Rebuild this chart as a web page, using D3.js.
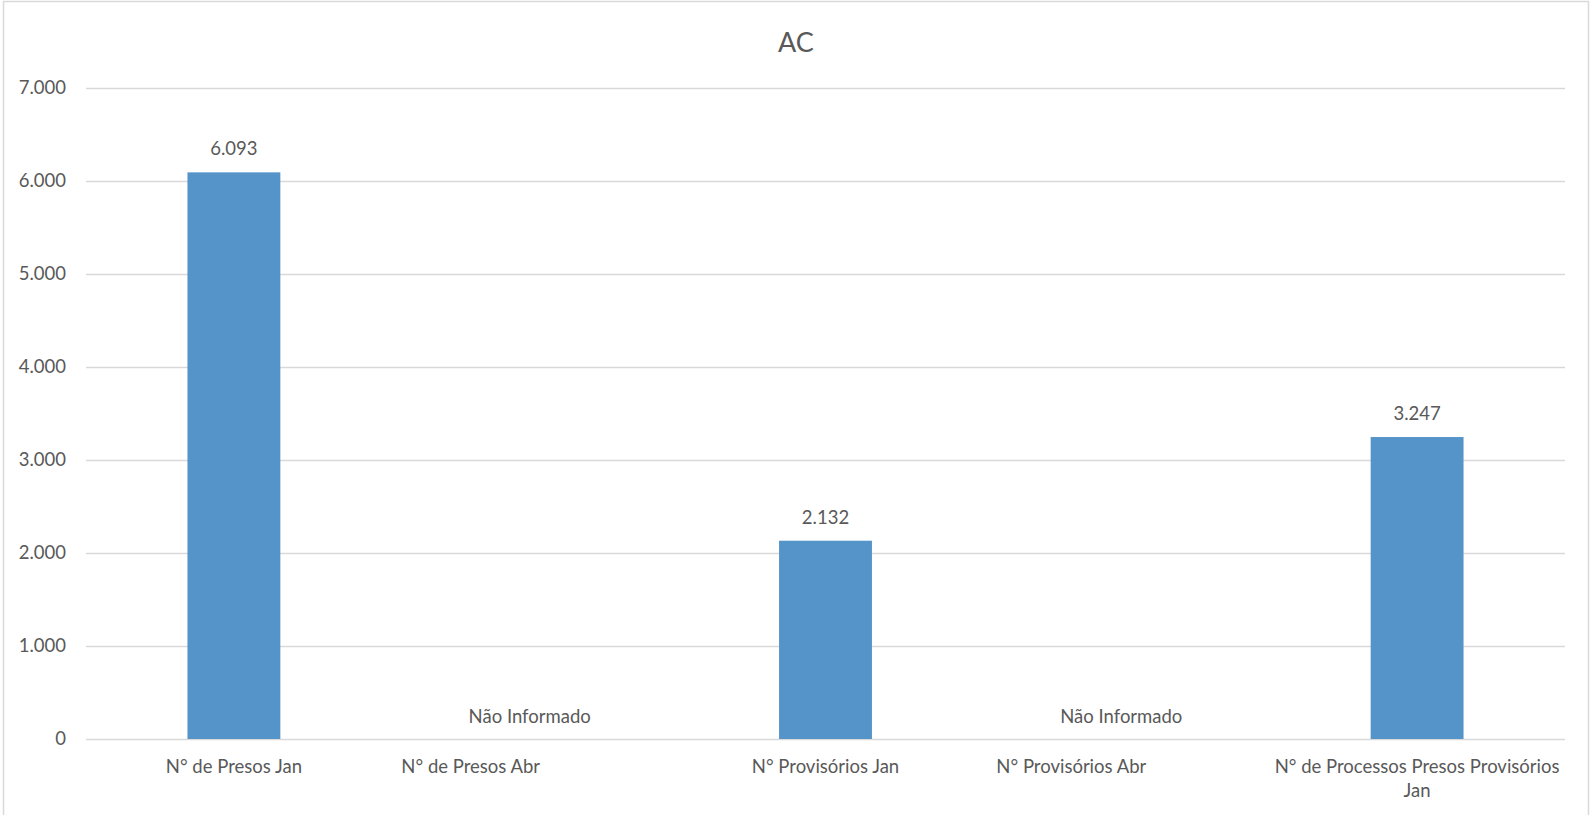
<!DOCTYPE html>
<html><head><meta charset="utf-8">
<script src="https://cdn.jsdelivr.net/npm/d3@7"></script>
<style>body{margin:0;background:#fff;overflow:hidden}svg{display:block}text{font-family:Lato,"Noto Sans",sans-serif;fill:#595959}</style>
</head><body><svg id="c" width="1592" height="815"></svg>
<script>
const title = "AC";
const categories = ["N° de Presos Jan","N° de Presos Abr","N° Provisórios Jan","N° Provisórios Abr","N° de Processos Presos Provisórios Jan"];
const values = [6093, null, 2132, null, 3247];
const missingLabel = "Não Informado";
const yTicks = [0,1000,2000,3000,4000,5000,6000,7000];

const W = 1592, H = 815;
const m = {left: 86, right: 27, top: 88, bottom: 76};
const svg = d3.select("#c");
svg.append("rect").attr("x",3.5).attr("y",1.5).attr("width",1585).attr("height",830)
  .attr("fill","#fff").attr("stroke","#d9d9d9").attr("stroke-width",1.5);

const x = d3.scaleBand().domain(categories).range([m.left, W - m.right]).paddingInner(0.686).paddingOuter(0.343);
const xc = d3.scaleBand().domain(categories).range([m.left, W - m.right]);
const y = d3.scaleLinear().domain([0,7000]).range([H - m.bottom, m.top]);
const fmt = v => d3.format(",")(v).replace(/,/g,".");

// gridlines
svg.append("g").selectAll("line").data(yTicks).join("line")
  .attr("x1", m.left).attr("x2", W - m.right)
  .attr("y1", d => Math.round(y(d))+0.5).attr("y2", d => Math.round(y(d))+0.5)
  .attr("stroke","#d9d9d9").attr("stroke-width",1.3);

// y axis labels
const ya = svg.append("g").attr("transform",`translate(${m.left-20},0)`)
  .call(d3.axisLeft(y).tickValues(yTicks).tickFormat(fmt).tickSize(0).tickPadding(0));
ya.select(".domain").remove();
ya.selectAll("text").style("font-size","18.5px").attr("fill","#595959").attr("font-family","Lato");

const idx = categories.map((c,i)=>i);
// bars
svg.append("g").selectAll("rect").data(idx.filter(i=>values[i]!=null)).join("rect")
  .attr("x", i => x(categories[i])).attr("width", x.bandwidth())
  .attr("y", i => y(values[i])).attr("height", i => y(0)-y(values[i]))
  .attr("fill","#5594c8");

// data labels
svg.append("g").selectAll("text").data(idx).join("text")
  .attr("x", i => xc(categories[i]) + xc.bandwidth()/2)
  .attr("y", i => values[i]==null ? y(0)-16 : y(values[i])-17)
  .attr("text-anchor","middle").style("font-size","18.5px")
  .text(i => values[i]==null ? missingLabel : fmt(values[i]));

// x axis labels (categories without a value are drawn shifted left, as in the reference)
const xa = svg.append("g").attr("transform",`translate(0,${y(0)})`)
  .call(d3.axisBottom(xc).tickSize(0).tickPadding(0));
xa.select(".domain").remove();
xa.selectAll("text").style("font-size","18.5px").attr("fill","#595959").attr("font-family","Lato")
  .attr("dy",null).attr("y",34)
  .each(function(d,i){
    const sx = values[i]==null ? (i===1 ? -59 : -50) : 0;
    const t = d3.select(this), words = t.text().split(/\s+/);
    t.text(null);
    let line = [], ln = 0, ts = t.append("tspan").attr("x",sx).attr("y",34);
    for (const w of words) {
      line.push(w); ts.text(line.join(" "));
      if (ts.node().getComputedTextLength() > xc.bandwidth()-4 && line.length>1) {
        line.pop(); ts.text(line.join(" "));
        line=[w]; ln++;
        ts = t.append("tspan").attr("x",sx).attr("y",34+ln*24).text(w);
      }
    }
  });

svg.append("text").attr("x", W/2).attr("y", 52).attr("text-anchor","middle")
  .style("font-size","27px").text(title);
</script></body></html>
